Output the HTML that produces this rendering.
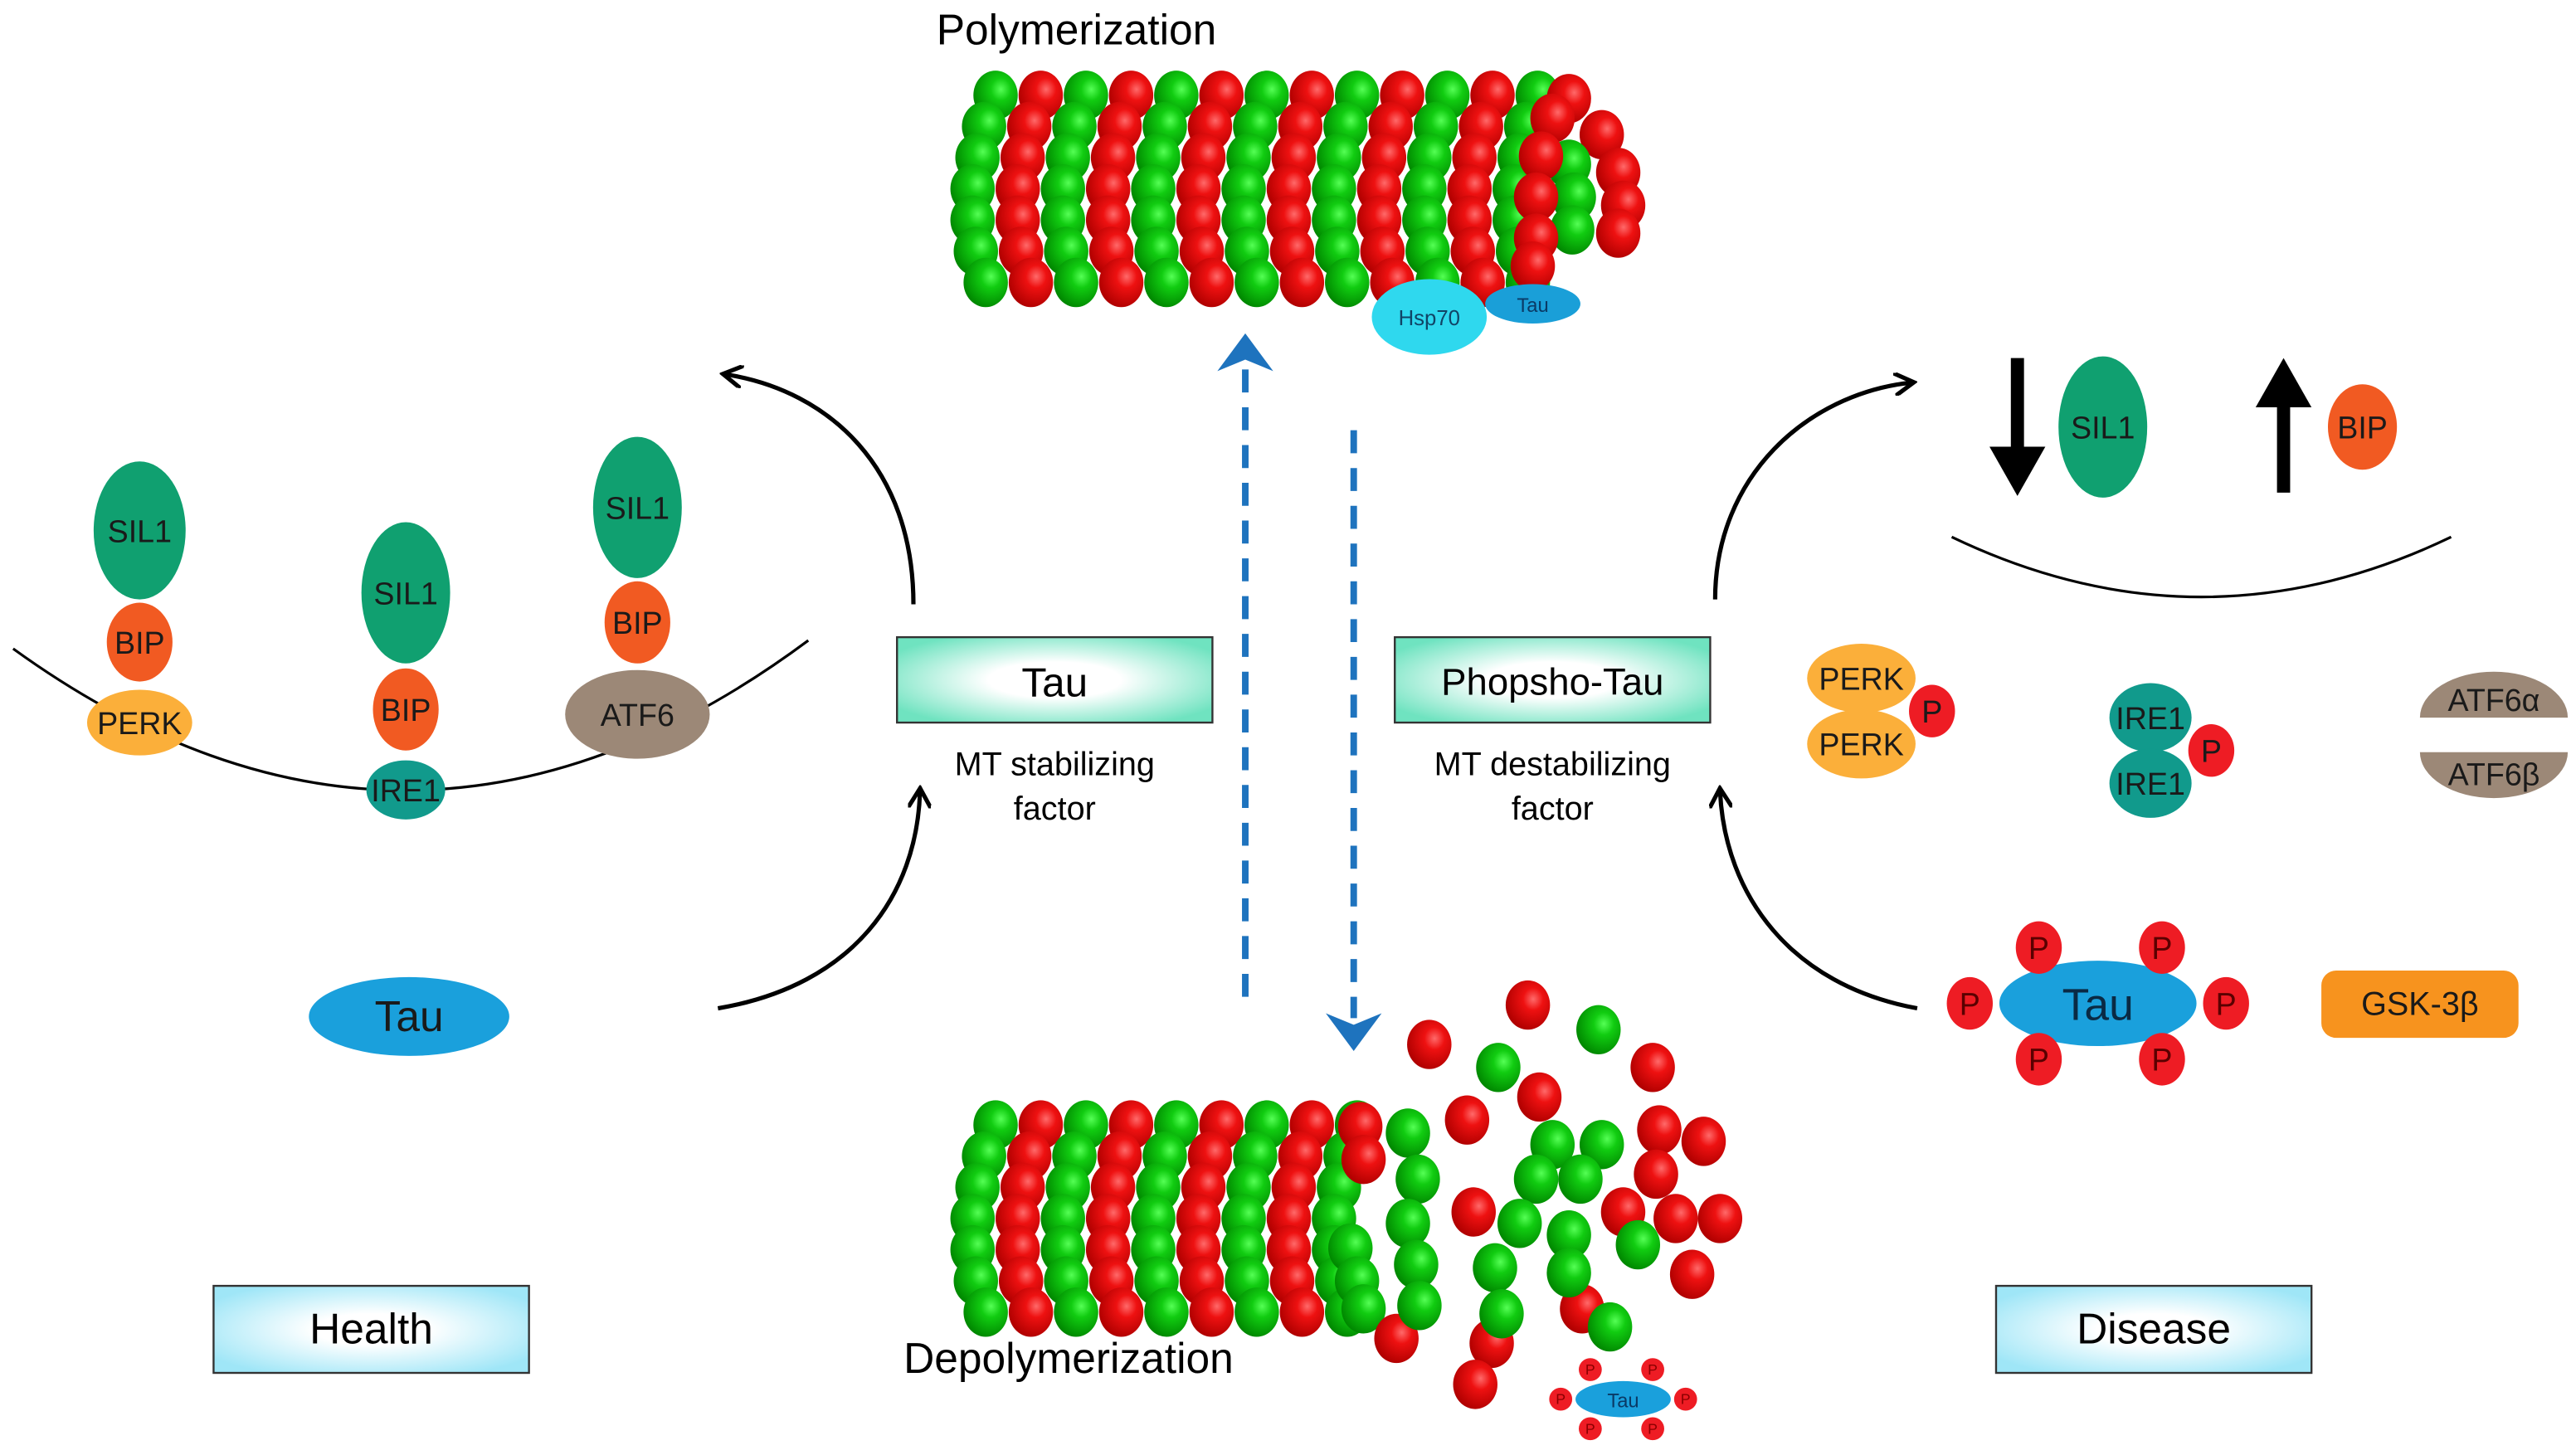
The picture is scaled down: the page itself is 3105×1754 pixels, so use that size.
<!DOCTYPE html>
<html><head><meta charset="utf-8">
<style>
html,body{margin:0;padding:0;background:#fff;}
svg{display:block;}
text{font-family:"Liberation Sans",Arial,sans-serif;}
</style></head>
<body>
<svg id="s" width="3105" height="1754" viewBox="0 0 1568 886" preserveAspectRatio="none" xmlns="http://www.w3.org/2000/svg">
<defs>
<radialGradient id="gr" cx="0.62" cy="0.38" r="0.65">
<stop offset="0" stop-color="#ff6a6a"/><stop offset="0.35" stop-color="#ee1111"/><stop offset="1" stop-color="#b00000"/>
</radialGradient>
<radialGradient id="gg" cx="0.62" cy="0.38" r="0.65">
<stop offset="0" stop-color="#55ff55"/><stop offset="0.35" stop-color="#11cc11"/><stop offset="1" stop-color="#008800"/>
</radialGradient>
<radialGradient id="bt" cx="0.5" cy="0.5" r="0.6">
<stop offset="0" stop-color="#ffffff"/><stop offset="0.35" stop-color="#ffffff"/><stop offset="1" stop-color="#6fe3c0"/>
</radialGradient>
<radialGradient id="bh" cx="0.5" cy="0.5" r="0.6">
<stop offset="0" stop-color="#ffffff"/><stop offset="0.3" stop-color="#ffffff"/><stop offset="1" stop-color="#9fe6f7"/>
</radialGradient>
<marker id="ah" markerWidth="14" markerHeight="14" refX="10" refY="7" orient="auto" markerUnits="userSpaceOnUse">
<path d="M0,0 L12,7 L0,14" fill="none" stroke="#000" stroke-width="2.6"/>
</marker>
</defs>

<g id="balls"></g>

<text x="570" y="27" font-size="26">Polymerization</text>
<text x="550" y="836" font-size="26">Depolymerization</text>

<ellipse cx="870" cy="193" rx="35" ry="23" fill="#2fd8ee"/>
<text x="870" y="198" font-size="13" text-anchor="middle" fill="#114466">Hsp70</text>
<ellipse cx="933" cy="185" rx="29" ry="12" fill="#1a9fd8"/>
<text x="933" y="190" font-size="12" text-anchor="middle" fill="#0a3a66">Tau</text>

<g font-size="9" text-anchor="middle" fill="#8a0000">
<ellipse cx="988" cy="852" rx="29" ry="11" fill="#1aa0dc"/>
<text x="988" y="857" font-size="12" fill="#0a3a66">Tau</text>
<circle cx="950" cy="852" r="7" fill="#ee1c24"/><text x="950" y="855">P</text>
<circle cx="1026" cy="852" r="7" fill="#ee1c24"/><text x="1026" y="855">P</text>
<circle cx="968" cy="834" r="7" fill="#ee1c24"/><text x="968" y="837">P</text>
<circle cx="1006" cy="834" r="7" fill="#ee1c24"/><text x="1006" y="837">P</text>
<circle cx="968" cy="870" r="7" fill="#ee1c24"/><text x="968" y="873">P</text>
<circle cx="1006" cy="870" r="7" fill="#ee1c24"/><text x="1006" y="873">P</text>
</g>

<g stroke="#1e73be" stroke-width="4" stroke-dasharray="14 9" fill="none">
<line x1="758" y1="607" x2="758" y2="222"/>
<line x1="824" y1="262" x2="824" y2="620"/>
</g>
<path d="M758,203 L775,226 L758,219 L741,226 Z" fill="#1e73be"/>
<path d="M824,640 L807,617 L824,624 L841,617 Z" fill="#1e73be"/>

<rect x="546" y="388" width="192" height="52" fill="url(#bt)" stroke="#333" stroke-width="1.2"/>
<text x="642" y="424" font-size="25" text-anchor="middle">Tau</text>
<text x="642" y="472" font-size="20" text-anchor="middle">MT stabilizing</text>
<text x="642" y="499" font-size="20" text-anchor="middle">factor</text>
<rect x="849" y="388" width="192" height="52" fill="url(#bt)" stroke="#333" stroke-width="1.2"/>
<text x="945" y="423" font-size="23" text-anchor="middle">Phopsho-Tau</text>
<text x="945" y="472" font-size="20" text-anchor="middle">MT destabilizing</text>
<text x="945" y="499" font-size="20" text-anchor="middle">factor</text>

<rect x="130" y="783" width="192" height="53" fill="url(#bh)" stroke="#333" stroke-width="1.2"/>
<text x="226" y="818" font-size="26" text-anchor="middle">Health</text>
<rect x="1215" y="783" width="192" height="53" fill="url(#bh)" stroke="#333" stroke-width="1.2"/>
<text x="1311" y="818" font-size="26" text-anchor="middle">Disease</text>

<g fill="none" stroke="#000" stroke-width="2.6">
<path d="M556,368 C556,285 505,238 442,228" marker-end="url(#ah)"/>
<path d="M437,614 C520,600 558,545 560,482" marker-end="url(#ah)"/>
<path d="M1044,365 C1044,290 1100,240 1163,233" marker-end="url(#ah)"/>
<path d="M1167,614 C1090,600 1050,545 1047,482" marker-end="url(#ah)"/>
</g>

<path d="M8,395 Q250,570 492,390" fill="none" stroke="#000" stroke-width="1.6"/>
<path d="M1188,327 Q1340,400 1492,327" fill="none" stroke="#000" stroke-width="1.6"/>

<g font-size="19" text-anchor="middle" fill="#1a1a1a">
<ellipse cx="85" cy="323" rx="28" ry="42" fill="#10a070"/><text x="85" y="330">SIL1</text>
<ellipse cx="85" cy="391" rx="20" ry="24" fill="#f15a22"/><text x="85" y="398">BIP</text>
<ellipse cx="85" cy="440" rx="32" ry="20" fill="#fbaf3a"/><text x="85" y="447">PERK</text>
<ellipse cx="247" cy="361" rx="27" ry="43" fill="#10a070"/><text x="247" y="368">SIL1</text>
<ellipse cx="247" cy="432" rx="20" ry="25" fill="#f15a22"/><text x="247" y="439">BIP</text>
<ellipse cx="247" cy="481" rx="24" ry="18" fill="#119a8c"/><text x="247" y="488">IRE1</text>
<ellipse cx="388" cy="309" rx="27" ry="43" fill="#10a070"/><text x="388" y="316">SIL1</text>
<ellipse cx="388" cy="379" rx="20" ry="25" fill="#f15a22"/><text x="388" y="386">BIP</text>
<ellipse cx="388" cy="435" rx="44" ry="27" fill="#9c8877"/><text x="388" y="442">ATF6</text>
<ellipse cx="249" cy="619" rx="61" ry="24" fill="#1aa0dc"/><text x="249" y="628" font-size="26">Tau</text>
</g>

<g>
<line x1="1228" y1="218" x2="1228" y2="275" stroke="#000" stroke-width="8"/>
<path d="M1211,272 L1245,272 L1228,302 Z" fill="#000"/>
<line x1="1390" y1="300" x2="1390" y2="245" stroke="#000" stroke-width="8"/>
<path d="M1373,248 L1407,248 L1390,218 Z" fill="#000"/>
</g>
<g font-size="19" text-anchor="middle" fill="#1a1a1a">
<ellipse cx="1280" cy="260" rx="27" ry="43" fill="#10a070"/><text x="1280" y="267">SIL1</text>
<ellipse cx="1438" cy="260" rx="21" ry="26" fill="#f15a22"/><text x="1438" y="267">BIP</text>
<ellipse cx="1133" cy="413" rx="33" ry="21" fill="#fbaf3a"/><text x="1133" y="420">PERK</text>
<ellipse cx="1133" cy="453" rx="33" ry="21" fill="#fbaf3a"/><text x="1133" y="460">PERK</text>
<ellipse cx="1176" cy="433" rx="14" ry="16" fill="#ee1c24"/><text x="1176" y="440">P</text>
<ellipse cx="1309" cy="437" rx="25" ry="21" fill="#119a8c"/><text x="1309" y="444">IRE1</text>
<ellipse cx="1309" cy="477" rx="25" ry="21" fill="#119a8c"/><text x="1309" y="484">IRE1</text>
<ellipse cx="1346" cy="457" rx="14" ry="16" fill="#ee1c24"/><text x="1346" y="464">P</text>
<path d="M1473,437 A45,28 0 0 1 1563,437 Z" fill="#9c8877"/><text x="1518" y="433">ATF6α</text>
<path d="M1473,458 A45,28 0 0 0 1563,458 Z" fill="#9c8877"/><text x="1518" y="478">ATF6β</text>
<ellipse cx="1277" cy="611" rx="60" ry="26" fill="#1aa0dc"/><text x="1277" y="621" font-size="27" fill="#0a2a44">Tau</text>
<g font-size="19" fill="#5a0000">
<ellipse cx="1241" cy="577" rx="14" ry="16" fill="#ee1c24"/><text x="1241" y="584">P</text>
<ellipse cx="1316" cy="577" rx="14" ry="16" fill="#ee1c24"/><text x="1316" y="584">P</text>
<ellipse cx="1199" cy="611" rx="14" ry="16" fill="#ee1c24"/><text x="1199" y="618">P</text>
<ellipse cx="1355" cy="611" rx="14" ry="16" fill="#ee1c24"/><text x="1355" y="618">P</text>
<ellipse cx="1241" cy="645" rx="14" ry="16" fill="#ee1c24"/><text x="1241" y="652">P</text>
<ellipse cx="1316" cy="645" rx="14" ry="16" fill="#ee1c24"/><text x="1316" y="652">P</text>
</g>
<rect x="1413" y="591" width="120" height="41" rx="9" fill="#f7931e"/><text x="1473" y="618" font-size="20">GSK-3β</text>
</g>
</svg>
<script>
(function(){
var g=document.getElementById('balls'),ns='http://www.w3.org/2000/svg',out=[];
function b(x,y,c){out.push([x,y,c]);}
var dx=[14,7,3,0,0,2,8];
for(var j=0;j<7;j++){for(var i=0;i<13;i++){var x=592+i*27.5+dx[j];var y=58+j*19;b(x,y,i%2?'r':'g');}}
[[955,60,'r'],[975,82,'r'],[985,105,'r'],[988,125,'r'],[985,142,'r'],[955,100,'g'],[958,120,'g'],[957,140,'g'],[945,72,'r'],[938,95,'r'],[935,120,'r'],[935,145,'r'],[933,162,'r']].forEach(function(a){b(a[0],a[1],a[2]);});
for(var j=0;j<7;j++){for(var i=0;i<9;i++){var x=592+i*27.5+dx[j];var y=685+j*19;b(x,y,i%2?'r':'g');}}
[[828,686,'r'],[830,706,'r'],[822,760,'g'],[826,780,'g'],[830,797,'g']].forEach(function(a){b(a[0],a[1],a[2]);});
var red=[[930,612],[870,636],[937,668],[893,682],[1006,650],[1010,688],[1037,695],[1008,715],[897,738],[988,738],[1020,742],[1047,742],[1030,776],[963,797],[908,818],[850,815],[898,843]];
var grn=[[973,627],[912,650],[857,690],[945,697],[975,697],[863,718],[935,718],[962,718],[857,745],[925,745],[955,752],[997,758],[862,770],[910,772],[955,775],[864,795],[914,800],[980,808]];
red.forEach(function(a){b(a[0],a[1],'r');});grn.forEach(function(a){b(a[0],a[1],'g');});
out.forEach(function(a){var e=document.createElementNS(ns,'ellipse');e.setAttribute('cx',a[0]);e.setAttribute('cy',a[1]);e.setAttribute('rx',13.5);e.setAttribute('ry',15);e.setAttribute('fill',a[2]=='r'?'url(#gr)':'url(#gg)');g.appendChild(e);});
})();
</script>
</body></html>
